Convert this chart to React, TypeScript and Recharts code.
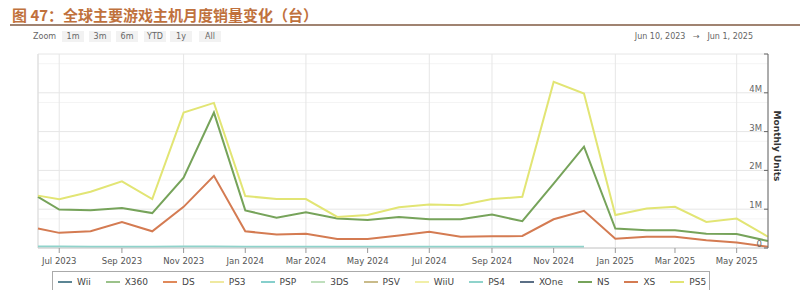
import React from 'react';
import {
    LineChart,
    Line,
    XAxis,
    YAxis,
    CartesianGrid,
    ReferenceLine,
} from 'recharts';

// monthly sales, millions of units (first point is the window start)
const dates = [
    '2023-06-10', '2023-07-01', '2023-08-01', '2023-09-01', '2023-10-01', '2023-11-01', '2023-12-01',
    '2024-01-01', '2024-02-01', '2024-03-01', '2024-04-01', '2024-05-01', '2024-06-01',
    '2024-07-01', '2024-08-01', '2024-09-01', '2024-10-01', '2024-11-01', '2024-12-01',
    '2025-01-01', '2025-02-01', '2025-03-01', '2025-04-01', '2025-05-01', '2025-06-01',
];
const ps5 = [1.35, 1.26, 1.45, 1.72, 1.26, 3.49, 3.74, 1.34, 1.26, 1.26, 0.80, 0.85, 1.05, 1.12, 1.10, 1.26, 1.32, 4.28, 3.98, 0.85, 1.02, 1.06, 0.67, 0.76, 0.29];
const ns = [1.32, 0.99, 0.97, 1.03, 0.90, 1.81, 3.49, 0.97, 0.78, 0.92, 0.76, 0.72, 0.80, 0.74, 0.74, 0.86, 0.69, 1.66, 2.61, 0.50, 0.46, 0.46, 0.37, 0.36, 0.18];
const xs = [0.50, 0.39, 0.43, 0.67, 0.43, 1.06, 1.86, 0.43, 0.35, 0.37, 0.23, 0.23, 0.32, 0.42, 0.29, 0.30, 0.31, 0.74, 0.96, 0.24, 0.29, 0.29, 0.20, 0.14, 0.03];
const ps4 = [0.04, 0.04, 0.03, 0.03, 0.03, 0.04, 0.04, 0.03, 0.03, 0.03, 0.03, 0.03, 0.03, 0.03, 0.03, 0.03, 0.03, 0.03, 0.03];

const tickDates = [
    '2023-07-01', '2023-09-01', '2023-11-01', '2024-01-01', '2024-03-01', '2024-05-01',
    '2024-07-01', '2024-09-01', '2024-11-01', '2025-01-01', '2025-03-01', '2025-05-01',
];
const yTicks = [0, 1, 2, 3, 4, 5];
const minorTicks = [0.25, 0.5, 0.75, 1.25, 1.5, 1.75, 2.25, 2.5, 2.75, 3.25, 3.5, 3.75, 4.25, 4.5, 4.75];

const legendNames = ['Wii', 'X360', 'DS', 'PS3', 'PSP', '3DS', 'PSV', 'WiiU', 'PS4', 'XOne', 'NS', 'XS', 'PS5'];
const colors: Record<string, string> = {
    Wii: '#5b8594',
    X360: '#9bc28a',
    DS: '#e0895a',
    PS3: '#efe9a0',
    PSP: '#86cfcc',
    '3DS': '#bfdfbd',
    PSV: '#c9bb8a',
    WiiU: '#f1efa8',
    PS4: '#8fd3cb',
    XOne: '#5b6f86',
    NS: '#76a35a',
    XS: '#d47b52',
    PS5: '#e2e574',
};

const zoomButtons = [
    { label: '1m', x: 73 },
    { label: '3m', x: 100 },
    { label: '6m', x: 127 },
    { label: 'YTD', x: 155 },
    { label: '1y', x: 181 },
    { label: 'All', x: 210 },
];

const MONTHS = ['Jan', 'Feb', 'Mar', 'Apr', 'May', 'Jun', 'Jul', 'Aug', 'Sep', 'Oct', 'Nov', 'Dec'];
const ts = (d: string) => Date.parse(d + 'T00:00:00Z');

const data = dates.map((d, i) => ({
    t: ts(d),
    PS5: ps5[i],
    NS: ns[i],
    XS: xs[i],
    PS4: i < ps4.length ? ps4[i] : null,
}));

const xStart = ts('2023-06-10');
const xEnd = ts('2025-06-01');
const font = '"DejaVu Sans", Verdana, sans-serif';

const fmtMonth = (v: number) => {
    const d = new Date(v);
    return `${MONTHS[d.getUTCMonth()]} ${d.getUTCFullYear()}`;
};
const fmtUnits = (v: number) => (v === 0 ? '0' : v === 5 ? '' : `${v}M`);

export default function App() {
    return (
        <div style={{ position: 'absolute', left: 0, top: 0, width: 800, height: 290, background: '#fff', fontFamily: font, overflow: 'hidden' }}>
            <div
                style={{
                    position: 'absolute', left: 12, top: 7, fontSize: 15, lineHeight: '16px', fontWeight: 700,
                    color: '#c0713d', fontFamily: '"Noto Sans CJK SC", sans-serif', whiteSpace: 'nowrap',
                }}
            >
                图 47：全球主要游戏主机月度销量变化（台）
            </div>
            <div style={{ position: 'absolute', left: 10, right: 0, top: 24, height: 1.5, background: '#a08371' }} />

            <div style={{ position: 'absolute', left: 33, top: 31, fontSize: 8, lineHeight: '11px', color: '#666' }}>Zoom</div>
            {zoomButtons.map((b) => (
                <div
                    key={b.label}
                    style={{
                        position: 'absolute', left: b.x - 11, top: 31, width: 22, height: 11, background: '#f2f2f2',
                        fontSize: 8, lineHeight: '11px', color: '#666', textAlign: 'center',
                    }}
                >
                    {b.label}
                </div>
            ))}
            <div style={{ position: 'absolute', right: 47, top: 31, fontSize: 8, lineHeight: '11px', color: '#666', whiteSpace: 'nowrap' }}>
                Jun 10, 2023&nbsp;&nbsp;&nbsp;→&nbsp;&nbsp;&nbsp;Jun 1, 2025
            </div>

            <LineChart width={800} height={290} data={data} margin={{ top: 54, right: 32, left: 38, bottom: 22 }}>
                <CartesianGrid horizontalValues={minorTicks} vertical={false} stroke="#f4f4f4" />
                <CartesianGrid stroke="#e6e6e6" />
                <ReferenceLine x={xStart} stroke="#dddddd" />
                <XAxis
                    dataKey="t"
                    type="number"
                    domain={[xStart, xEnd]}
                    ticks={tickDates.map(ts)}
                    tickFormatter={fmtMonth}
                    height={20}
                    tickSize={5}
                    tickMargin={5}
                    tick={{ fontSize: 8.5, fill: '#555', fontFamily: font }}
                    tickLine={{ stroke: '#999' }}
                    axisLine={{ stroke: '#cccccc' }}
                />
                <YAxis
                    orientation="right"
                    mirror
                    domain={[0, 5]}
                    ticks={yTicks}
                    tickFormatter={fmtUnits}
                    tickSize={4}
                    tick={{ fontSize: 8.5, fill: '#666', fontFamily: font, dy: -4 }}
                    tickLine={{ stroke: '#666' }}
                    axisLine={{ stroke: '#666' }}
                />
                <Line type="linear" dataKey="PS4" stroke={colors.PS4} strokeWidth={2} dot={false} isAnimationActive={false} connectNulls={false} />
                <Line type="linear" dataKey="NS" stroke={colors.NS} strokeWidth={2} dot={false} isAnimationActive={false} />
                <Line type="linear" dataKey="XS" stroke={colors.XS} strokeWidth={2} dot={false} isAnimationActive={false} />
                <Line type="linear" dataKey="PS5" stroke={colors.PS5} strokeWidth={2} dot={false} isAnimationActive={false} />
            </LineChart>

            <div
                style={{
                    position: 'absolute', left: 777, top: 146, transform: 'translate(-50%, -50%) rotate(90deg)',
                    fontSize: 9, fontWeight: 700, color: '#333', whiteSpace: 'nowrap',
                }}
            >
                Monthly Units
            </div>

            <div
                style={{
                    position: 'absolute', left: 52, top: 271, width: 658, height: 30, border: '1px solid #aaa',
                    boxSizing: 'border-box', display: 'flex', alignItems: 'flex-start', paddingLeft: 5, paddingTop: 4,
                }}
            >
                {legendNames.map((name) => (
                    <div key={name} style={{ display: 'flex', alignItems: 'center', marginRight: 15 }}>
                        <span style={{ display: 'inline-block', width: 14, height: 2, background: colors[name], marginRight: 5 }} />
                        <span style={{ fontSize: 9, color: '#444', lineHeight: '12px' }}>{name}</span>
                    </div>
                ))}
            </div>
        </div>
    );
}
